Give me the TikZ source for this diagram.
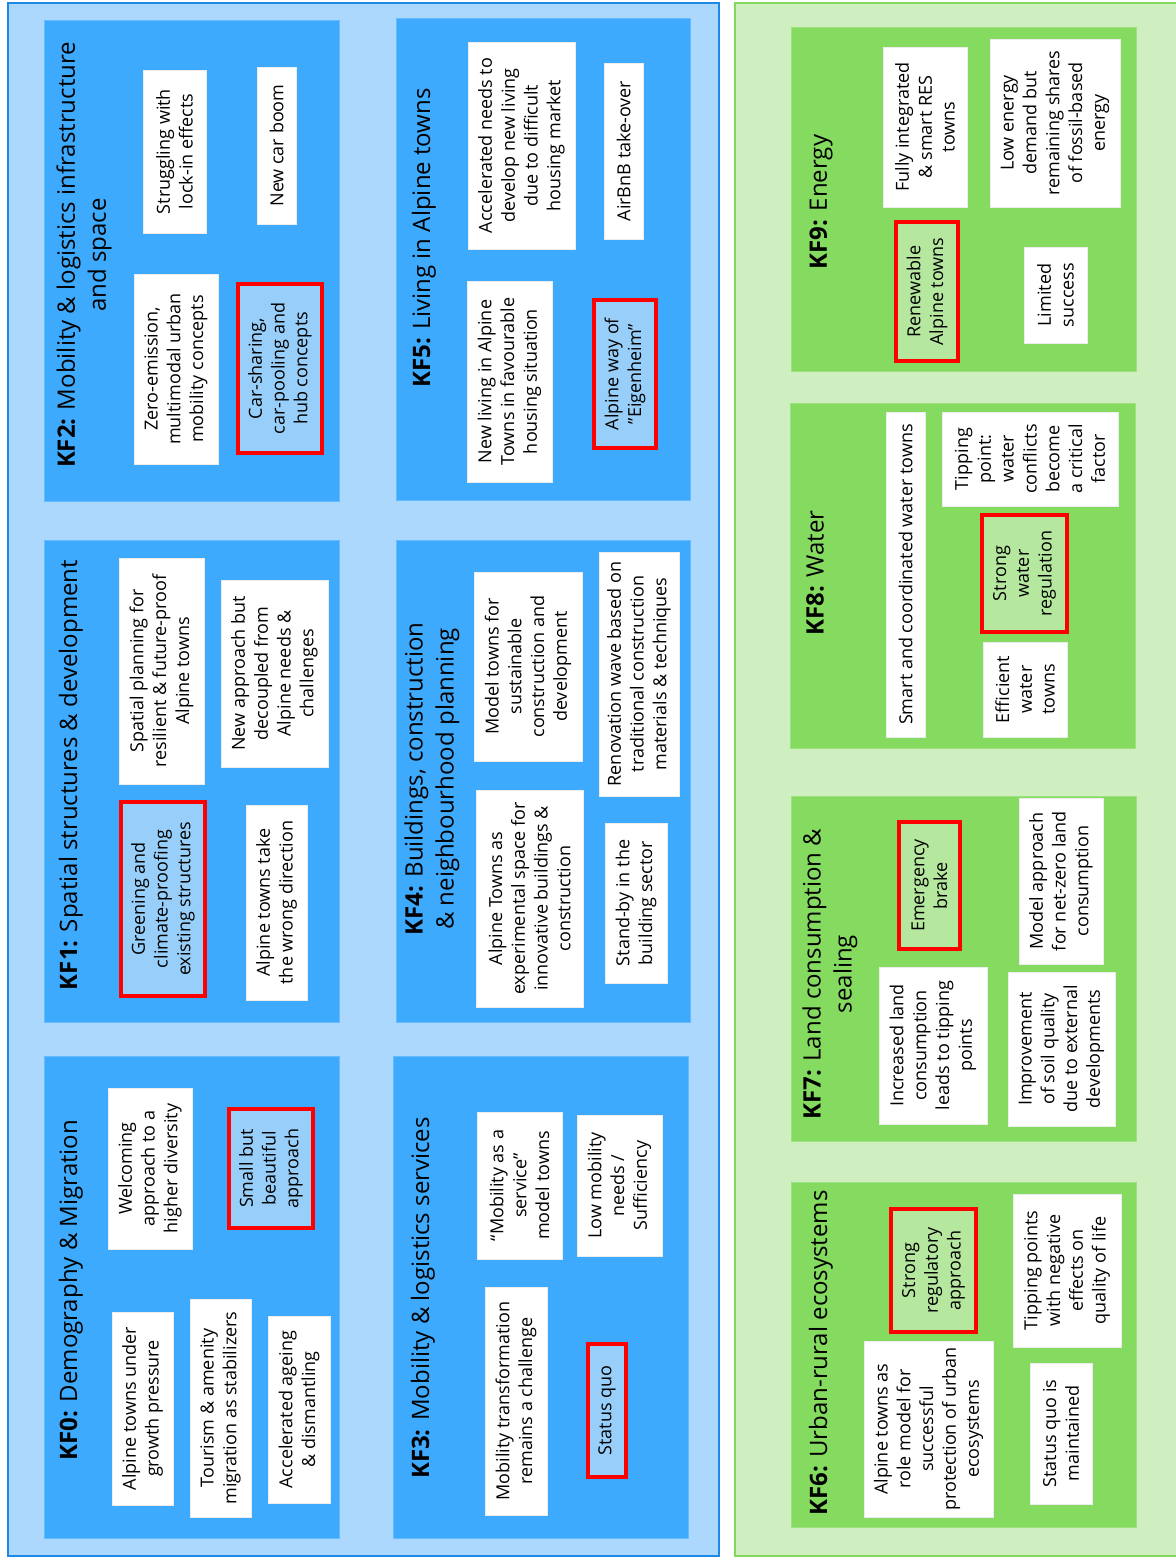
\documentclass[tikz,border=0pt]{standalone}
\usepackage{fontspec}
\setmainfont{Open Sans}
\definecolor{bluebg}{RGB}{171,216,252}
\definecolor{blueborder}{RGB}{30,136,229}
\definecolor{bluepanel}{RGB}{62,170,253}
\definecolor{bluehl}{RGB}{152,207,250}
\definecolor{greenbg}{RGB}{207,239,193}
\definecolor{greenborder}{RGB}{128,216,92}
\definecolor{greenpanel}{RGB}{133,218,96}
\definecolor{greenhl}{RGB}{181,232,158}
\newcommand\bodyfont{\fontsize{9}{11.4}\selectfont}
\newcommand\titlefont{\fontsize{12}{15.5}\selectfont}
\newcommand\bx[7]{%
  \node[#6, minimum width={(#5-#3)*0.5pt}, minimum height={(#4-#2)*0.5pt}] (#1) at ({(#2+#4)/2},{(#3+#5)/2}) {#7};}
\tikzset{
  basebox/.style={rotate=90, inner sep=1pt, outer sep=0pt, align=center, font=\bodyfont, text=black},
  frameB/.style={basebox, draw=blueborder, fill=bluebg, line width=1pt},
  frameG/.style={basebox, draw=greenborder, fill=greenbg, line width=1pt},
  panelB/.style={basebox, draw=bluepanel!80!white, fill=bluepanel, line width=0.5pt},
  panelG/.style={basebox, draw=greenpanel!80!white, fill=greenpanel, line width=0.5pt},
  wbox/.style={basebox, fill=white, draw=white!85!gray, line width=0.4pt},
  rboxB/.style={basebox, fill=bluehl, draw=red, line width=2pt},
  rboxG/.style={basebox, fill=greenhl, draw=red, line width=2pt},
  ttl/.style={rotate=90, inner sep=0pt, align=center, font=\titlefont, text=black}
}
\begin{document}
\begin{tikzpicture}[x=0.5pt,y=-0.5pt]
\useasboundingbox (0,0) rectangle (1175,1558);
% frames
\bx{fb}{8}{3}{719}{1556}{frameB}{}
\bx{fg}{735}{3}{1182}{1556}{frameG}{}
% panels
\bx{p2}{44}{20}{339}{501}{panelB}{}
\bx{p1}{44}{540}{339}{1022}{panelB}{}
\bx{p0}{44}{1056}{339}{1538}{panelB}{}
\bx{p5}{396}{18}{690}{500}{panelB}{}
\bx{p4}{396}{540}{690}{1022}{panelB}{}
\bx{p3}{393}{1056}{688}{1538}{panelB}{}
\bx{p9}{791}{27}{1136}{371}{panelG}{}
\bx{p8}{790}{403}{1135}{748}{panelG}{}
\bx{p7}{791}{796}{1136}{1141}{panelG}{}
\bx{p6}{791}{1182}{1136}{1527}{panelG}{}
% titles
\node[ttl] (t2) at (84,255) {\textbf{KF2:} Mobility \& logistics infrastructure\\and space};
\node[ttl] (t1) at (71,775) {\textbf{KF1:} Spatial structures \& development};
\node[ttl] (t0) at (71,1290) {\textbf{KF0:} Demography \& Migration};
\node[ttl] (t5) at (424,238) {\textbf{KF5:} Living in Alpine towns};
\node[ttl] (t4) at (432,779) {\textbf{KF4:} Buildings, construction\\\& neighbourhood planning};
\node[ttl] (t3) at (423,1298) {\textbf{KF3:} Mobility \& logistics services};
\node[ttl] (t9) at (821,202) {\textbf{KF9:} Energy};
\node[ttl] (t8) at (815,573) {\textbf{KF8:} Water};
\node[ttl] (t7) at (830,974) {\textbf{KF7:} Land consumption \&\\sealing};
\node[ttl] (t6) at (821,1353) {\textbf{KF6:} Urban-rural ecosystems};
% KF2
\bx{z2a}{134}{274}{218}{464}{wbox}{Zero-emission,\\multimodal urban\\mobility concepts}
\bx{z2b}{143}{70}{206}{233}{wbox}{Struggling with\\lock-in effects}
\bx{z2c}{257}{67}{296}{224}{wbox}{New car boom}
\bx{z2d}{238}{284}{322}{453}{rboxB}{Car-sharing,\\car-pooling and\\hub concepts}
% KF1
\bx{z1a}{121}{802}{205}{996}{rboxB}{Greening and\\climate-proofing\\existing structures}
\bx{z1b}{119}{558}{204}{784}{wbox}{Spatial planning for\\resilient \& future-proof\\Alpine towns}
\bx{z1c}{221}{580}{328}{767}{wbox}{New approach but\\decoupled from\\Alpine needs \&\\challenges}
\bx{z1d}{246}{805}{307}{1000}{wbox}{Alpine towns take\\the wrong direction}
% KF0
\bx{z0a}{108}{1088}{192}{1249}{wbox}{Welcoming\\approach to a\\higher diversity}
\bx{z0b}{229}{1109}{313}{1228}{rboxB}{Small but\\beautiful\\approach}
\bx{z0c}{112}{1312}{173}{1505}{wbox}{Alpine towns under\\growth pressure}
\bx{z0d}{190}{1299}{251}{1517}{wbox}{Tourism \& amenity\\migration as stabilizers}
\bx{z0e}{268}{1316}{330}{1503}{wbox}{Accelerated ageing\\\& dismantling}
% KF5
\bx{z5a}{468}{42}{575}{249}{wbox}{Accelerated needs to\\develop new living\\due to difficult\\housing market}
\bx{z5b}{604}{63}{643}{239}{wbox}{AirBnB take-over}
\bx{z5c}{467}{281}{552}{482}{wbox}{New living in Alpine\\Towns in favourable\\housing situation}
\bx{z5d}{594}{300}{656}{448}{rboxB}{Alpine way of\\”Eigenheim”}
% KF4
\bx{z4a}{474}{572}{582}{761}{wbox}{Model towns for\\sustainable\\construction and\\development}
\bx{z4b}{599}{552}{679}{796}{wbox}{Renovation wave based on\\traditional construction\\materials \& techniques}
\bx{z4c}{476}{790}{583}{1007}{wbox}{Alpine Towns as\\experimental space for\\innovative buildings \&\\construction}
\bx{z4d}{605}{823}{667}{983}{wbox}{Stand-by in the\\building sector}
% KF3
\bx{z3a}{477}{1112}{562}{1259}{wbox}{“Mobility as a\\service”\\model towns}
\bx{z3b}{577}{1115}{662}{1256}{wbox}{Low mobility\\needs /\\Sufficiency}
\bx{z3c}{485}{1287}{547}{1515}{wbox}{Mobility transformation\\remains a challenge}
\bx{z3d}{588}{1344}{626}{1477}{rboxB}{Status quo}
% KF9
\bx{z9a}{883}{47}{967}{207}{wbox}{Fully integrated\\\& smart RES\\towns}
\bx{z9b}{990}{39}{1120}{207}{wbox}{Low energy\\demand but\\remaining shares\\of fossil-based\\energy}
\bx{z9c}{896}{222}{958}{361}{rboxG}{Renewable\\Alpine towns}
\bx{z9d}{1024}{247}{1087}{343}{wbox}{Limited\\success}
% KF8
\bx{z8a}{886}{412}{925}{737}{wbox}{Smart and coordinated water towns}
\bx{z8b}{942}{412}{1118}{506}{wbox}{Tipping\\point:\\water\\conflicts\\become\\a critical\\factor}
\bx{z8c}{982}{515}{1067}{632}{rboxG}{Strong\\water\\regulation}
\bx{z8d}{983}{642}{1067}{737}{wbox}{Efficient\\water\\towns}
% KF7
\bx{z7a}{899}{822}{960}{949}{rboxG}{Emergency\\brake}
\bx{z7b}{1019}{798}{1103}{964}{wbox}{Model approach\\for net-zero land\\consumption}
\bx{z7c}{879}{967}{987}{1124}{wbox}{Increased land\\consumption\\leads to tipping\\points}
\bx{z7d}{1008}{972}{1115}{1126}{wbox}{Improvement\\of soil quality\\due to external\\developments}
% KF6
\bx{z6a}{891}{1209}{976}{1332}{rboxG}{Strong\\regulatory\\approach}
\bx{z6b}{1013}{1194}{1121}{1347}{wbox}{Tipping points\\with negative\\effects on\\quality of life}
\bx{z6c}{864}{1341}{993}{1517}{wbox}{Alpine towns as\\role model for\\successful\\protection of urban\\ecosystems}
\bx{z6d}{1030}{1363}{1092}{1504}{wbox}{Status quo is\\maintained}
\end{tikzpicture}
\end{document}
